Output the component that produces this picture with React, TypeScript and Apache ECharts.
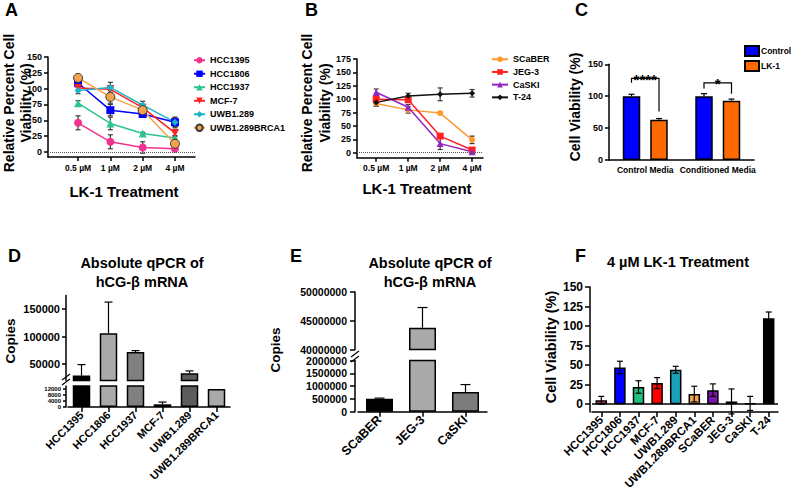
import React, { useEffect, useRef } from 'react';
import * as echarts from 'echarts';

const FONT = 'Liberation Sans';

// ---------- A: dose response of breast / ovarian lines ----------
const doses = ['0.5 µM', '1 µM', '2 µM', '4 µM'];
const hcc1395 = [46, 16, 7, 5];
const hcc1395Err = [11, 11, 9, 3];
const hcc1806 = [109, 66, 60, 47];
const hcc1806Err = [6, 9, 5, 7];
const hcc1937 = [77, 45, 29, 22];
const hcc1937Err = [4, 10, 2, 4];
const mcf7 = [101, 99, 70, 30];
const mcf7Err = [5, 6, 5, 6];
const uwb1289 = [97, 102, 74, 47];
const uwb1289Err = [5, 8, 6, 8];
const uwb1289Brca1 = [117, 87, 66, 13];
const uwb1289Brca1Err = [3, 10, 5, 5];

// ---------- B: dose response of other lines ----------
const scaber = [92, 80, 74, 24];
const scaberErr = [5, 6, 2, 7];
const jeg3 = [100, 99, 31, 5];
const jeg3Err = [4, 4, 4, 4];
const caski = [113, 85, 17, 2];
const caskiErr = [6, 5, 11, 5];
const t24 = [94, 106, 109, 111];
const t24Err = [7, 5, 12, 7];

// ---------- C: conditioned media ----------
const mediaGroups = ['Control Media', 'Conditioned Media'];
const controlViability = [100, 100];
const controlErr = [3, 4];
const lk1Viability = [63, 93];
const lk1Err = [2, 2.5];
const sigLabels = ['****', '*'];
const sigBracketTop = [128, 121];
const sigLeftEnd = [121, 112];
const sigRightEnd = [76, 104];

// ---------- D: hCG-beta copies, breast / ovarian ----------
const breastLines = ['HCC1395', 'HCC1806', 'HCC1937', 'MCF-7', 'UWB1.289', 'UWB1.289BRCA1'];
const breastCopies = [29000, 106000, 72000, 1800, 33000, 12000];
const breastCopiesErr = [20000, 57000, 2500, 1500, 4500, 0];
const dUpperTicks = [50000, 100000, 150000];
const dLowerTicks = [0, 4000, 8000, 12000];

// ---------- E: hCG-beta copies, other lines ----------
const otherLines = ['SCaBER', 'JEG-3', 'CaSKI'];
const otherCopies = [510000, 43800000, 770000];
const otherCopiesErr = [20000, 3500000, 290000];

// ---------- F: viability at 4 µM ----------
const panelLines = ['HCC1395', 'HCC1806', 'HCC1937', 'MCF-7', 'UWB1.289', 'UWB1.289BRCA1', 'SCaBER', 'JEG-3', 'CaSKI', 'T-24'];
const viability4uM = [5, 47, 22, 27, 44, 13, 18, 3.5, 1, 110];
const viability4uMErr = [5, 8, 8, 7, 4.5, 10, 8, 16, 9, 8];

const viabilityTicks = [0, 25, 50, 75, 100, 125, 150];
const viabilityTicksB = [0, 25, 50, 75, 100, 125, 150, 175];
const doseTicks = [0, 1, 2, 3];

// styles
const aStyle: Record<string, any> = {
  HCC1395: { color: '#f2328f', symbol: 'circle', size: 8 },
  HCC1806: { color: '#0000ff', symbol: 'rect', size: 8 },
  HCC1937: { color: '#2ec48c', symbol: 'triangle', size: 8 },
  'MCF-7': { color: '#ff2222', symbol: 'triangle', size: 8, rotate: 180 },
  'UWB1.289': { color: '#1cb4c8', symbol: 'diamond', size: 7 },
  'UWB1.289BRCA1': { color: '#f5a24c', symbol: 'circle', size: 9, border: '#3a3a3a' },
};
const bStyle: Record<string, any> = {
  SCaBER: { color: '#ff9a2e', symbol: 'circle', size: 6 },
  'JEG-3': { color: '#ff2020', symbol: 'rect', size: 7 },
  CaSKI: { color: '#9426c6', symbol: 'triangle', size: 7 },
  'T-24': { color: '#111111', symbol: 'diamond', size: 6 },
};
const dColors = ['#000000', '#a9a9a9', '#808080', '#a9a9a9', '#5c5c5c', '#a9a9a9'];
const eColors = ['#000000', '#a9a9a9', '#7c7c7c'];
const fColors = ['#e8338d', '#0000ff', '#22c07e', '#ff0000', '#1aa0b8', '#f3a64d', '#7a14aa', '#b43a3a', '#6b6b6b', '#000000'];

const aLines = [
  { name: 'HCC1395', values: hcc1395, errs: hcc1395Err },
  { name: 'HCC1806', values: hcc1806, errs: hcc1806Err },
  { name: 'HCC1937', values: hcc1937, errs: hcc1937Err },
  { name: 'MCF-7', values: mcf7, errs: mcf7Err },
  { name: 'UWB1.289', values: uwb1289, errs: uwb1289Err },
  { name: 'UWB1.289BRCA1', values: uwb1289Brca1, errs: uwb1289Brca1Err },
];
const bLines = [
  { name: 'SCaBER', values: scaber, errs: scaberErr },
  { name: 'JEG-3', values: jeg3, errs: jeg3Err },
  { name: 'CaSKI', values: caski, errs: caskiErr },
  { name: 'T-24', values: t24, errs: t24Err },
];

const lineAxis = { show: true, onZero: false, lineStyle: { color: '#000', width: 1.5 } };
const tick = (len = 4) => ({ show: true, length: len, lineStyle: { color: '#000', width: 1.5 } });
const lbl = (size: number) => ({ color: '#000', fontWeight: 'bold' as const, fontFamily: FONT, fontSize: size });
const asText = (v: number) => String(v);

function errorBars(xi: number, data: number[][], cap: number, both: boolean, shift = 0, color = '#000', z = 5) {
  return {
    type: 'custom',
    xAxisIndex: xi,
    yAxisIndex: xi,
    z,
    silent: true,
    data,
    encode: { x: 0, y: [1, 2] },
    renderItem: (_p: any, api: any) => {
      const x = api.value(0);
      const lo = api.coord([x, api.value(1)]);
      const hi = api.coord([x, api.value(2)]);
      const cx = lo[0] + shift;
      const st = { stroke: color, lineWidth: 1.2 };
      const children: any[] = [
        { type: 'line', shape: { x1: cx, y1: lo[1], x2: cx, y2: hi[1] }, style: st },
        { type: 'line', shape: { x1: cx - cap / 2, y1: hi[1], x2: cx + cap / 2, y2: hi[1] }, style: st },
      ];
      if (both) children.push({ type: 'line', shape: { x1: cx - cap / 2, y1: lo[1], x2: cx + cap / 2, y2: lo[1] }, style: st });
      return { type: 'group', children };
    },
  };
}

function doseSeries(lines: any[], styles: Record<string, any>, axis: number) {
  const out: any[] = [];
  lines.forEach((ln, k) => {
    const s = styles[ln.name];
    out.push(errorBars(axis, ln.values.map((v: number, i: number) => [i, v - ln.errs[i], v + ln.errs[i]]), 5, true, 0, '#3a3a3a', 2));
    out.push({
      type: 'line',
      name: ln.name,
      xAxisIndex: axis,
      yAxisIndex: axis,
      z: 3,
      data: ln.values.map((v: number, i: number) => [i, v]),
      symbol: s.symbol,
      symbolSize: s.size,
      symbolRotate: s.rotate || 0,
      itemStyle: { color: s.color, borderColor: s.border || s.color, borderWidth: s.border ? 1 : 0, opacity: 1 },
      lineStyle: { color: s.color, width: 1.5 },
      markLine: k === 0 ? {
        silent: true, symbol: 'none', label: { show: false },
        lineStyle: { type: 'dotted', color: '#555', width: 1 },
        data: [{ yAxis: 0 }],
      } : undefined,
    });
  });
  return out;
}

function txt(text: string, x: number, y: number, size: number, opts: any = {}) {
  return {
    type: 'text',
    x, y,
    rotation: opts.rotate ? Math.PI / 2 : 0,
    style: {
      text,
      fill: '#000',
      fontFamily: FONT,
      fontWeight: 'bold',
      fontSize: size,
      lineHeight: opts.lineHeight || size * 1.2,
      align: opts.align || 'center',
      textAlign: opts.align || 'center',
      verticalAlign: 'middle',
      textVerticalAlign: 'middle',
    },
  };
}

const brk = (x1: number, y1: number, x2: number, y2: number) => ({
  type: 'line', shape: { x1, y1, x2, y2 }, style: { stroke: '#000', lineWidth: 1.2 },
});

function buildOption(): any {
  const grids = [
    { left: 48, top: 57, width: 147, height: 100 },      // A
    { left: 357, top: 59, width: 126, height: 98.7 },    // B
    { left: 609, top: 64.3, width: 145, height: 95.7 },  // C
    { left: 68, top: 295.5, width: 162, height: 85 },    // D upper
    { left: 68, top: 386, width: 162, height: 21 },      // D lower
    { left: 358, top: 292, width: 129, height: 57.5 },   // E upper
    { left: 358, top: 360.5, width: 129, height: 51.2 }, // E lower
    { left: 592, top: 287, width: 186, height: 125 },    // F
  ];

  const xAxis: any[] = [
    {
      gridIndex: 0, type: 'value', min: -0.93, max: 3.62, splitLine: { show: false },
      axisLine: lineAxis, axisTick: { ...tick(4), customValues: doseTicks },
      axisLabel: { ...lbl(8.5), margin: 6, customValues: doseTicks, formatter: (v: number) => doses[Math.round(v)] },
    },
    {
      gridIndex: 1, type: 'value', min: -0.6, max: 3.34, splitLine: { show: false },
      axisLine: lineAxis, axisTick: { ...tick(4), customValues: doseTicks },
      axisLabel: { ...lbl(8.5), margin: 6, customValues: doseTicks, formatter: (v: number) => doses[Math.round(v)] },
    },
    {
      gridIndex: 2, type: 'category', data: mediaGroups, axisLine: lineAxis, axisTick: { show: false },
      axisLabel: { ...lbl(8.5), margin: 5, interval: 0 },
    },
    { gridIndex: 3, type: 'category', data: breastLines, show: false },
    {
      gridIndex: 4, type: 'category', data: breastLines, axisLine: lineAxis,
      axisTick: { ...tick(5), alignWithLabel: true },
      axisLabel: { ...lbl(11), rotate: 45, interval: 0, margin: 6 },
    },
    { gridIndex: 5, type: 'category', data: otherLines, show: false },
    {
      gridIndex: 6, type: 'category', data: otherLines, axisLine: lineAxis,
      axisTick: { ...tick(5), alignWithLabel: true },
      axisLabel: { ...lbl(12.5), rotate: 45, interval: 0, margin: 6 },
    },
    {
      gridIndex: 7, type: 'category', data: panelLines, axisLine: lineAxis,
      axisTick: { ...tick(5), alignWithLabel: true },
      axisLabel: { ...lbl(11.5), rotate: 45, interval: 0, margin: 6 },
    },
  ];

  const yAxis: any[] = [
    {
      gridIndex: 0, type: 'value', min: -8, max: 150, splitLine: { show: false },
      axisLine: lineAxis, axisTick: { ...tick(4), customValues: viabilityTicks },
      axisLabel: { ...lbl(9), margin: 6, customValues: viabilityTicks },
    },
    {
      gridIndex: 1, type: 'value', min: -9.3, max: 175, splitLine: { show: false },
      axisLine: lineAxis, axisTick: { ...tick(4), customValues: viabilityTicksB },
      axisLabel: { ...lbl(9), margin: 6, customValues: viabilityTicksB },
    },
    {
      gridIndex: 2, type: 'value', min: 0, max: 150, interval: 50, splitLine: { show: false },
      axisLine: lineAxis, axisTick: tick(4), axisLabel: { ...lbl(9), margin: 6 },
    },
    {
      gridIndex: 3, type: 'value', min: 20000, max: 175000, offset: 2, splitLine: { show: false },
      axisLine: lineAxis, axisTick: { ...tick(4), customValues: dUpperTicks },
      axisLabel: { ...lbl(11), margin: 6, customValues: dUpperTicks, formatter: asText },
    },
    {
      gridIndex: 4, type: 'value', min: 0, max: 14000, offset: 2, splitLine: { show: false },
      axisLine: lineAxis, axisTick: { ...tick(3), customValues: dLowerTicks },
      axisLabel: { ...lbl(6), lineHeight: 5, margin: 5, customValues: dLowerTicks, formatter: asText },
    },
    {
      gridIndex: 5, type: 'value', min: 40000000, max: 50000000, interval: 5000000, offset: 3, splitLine: { show: false },
      axisLine: lineAxis, axisTick: tick(5), axisLabel: { ...lbl(10.5), lineHeight: 9, margin: 8, formatter: asText },
    },
    {
      gridIndex: 6, type: 'value', min: 0, max: 2000000, interval: 500000, offset: 3, splitLine: { show: false },
      axisLine: lineAxis, axisTick: tick(5), axisLabel: { ...lbl(10.5), lineHeight: 9, margin: 8, formatter: asText },
    },
    {
      gridIndex: 7, type: 'value', min: -10, max: 150, offset: 2, splitLine: { show: false },
      axisLine: lineAxis, axisTick: { ...tick(5), customValues: viabilityTicks },
      axisLabel: { ...lbl(12), margin: 7, customValues: viabilityTicks },
    },
  ];

  const barBorder = { borderColor: '#000', borderWidth: 1.5 };
  const series: any[] = [
    ...doseSeries(aLines, aStyle, 0),
    ...doseSeries(bLines, bStyle, 1),

    // C
    {
      type: 'bar', name: 'Control', xAxisIndex: 2, yAxisIndex: 2, barWidth: 17.5, barGap: '57%',
      data: controlViability, itemStyle: { color: '#0000ff', ...barBorder },
    },
    {
      type: 'bar', name: 'LK-1', xAxisIndex: 2, yAxisIndex: 2, barWidth: 17.5, barGap: '57%',
      data: lk1Viability, itemStyle: { color: '#ff6a00', ...barBorder },
    },
    errorBars(2, controlViability.map((v, i) => [i, v, v + controlErr[i]]), 6, false, -13.75),
    errorBars(2, lk1Viability.map((v, i) => [i, v, v + lk1Err[i]]), 6, false, 13.75),
    {
      type: 'custom', xAxisIndex: 2, yAxisIndex: 2, silent: true, z: 6,
      data: sigBracketTop.map((v, i) => [i, v, sigLeftEnd[i], sigRightEnd[i]]),
      encode: { x: 0, y: 1 },
      renderItem: (_p: any, api: any) => {
        const i = api.value(0);
        const top = api.coord([i, api.value(1)]);
        const yl = api.coord([i, api.value(2)])[1];
        const yr = api.coord([i, api.value(3)])[1];
        const xl = top[0] - 13.75;
        const xr = top[0] + 13.75;
        return {
          type: 'group',
          children: [
            { type: 'polyline', shape: { points: [[xl, yl], [xl, top[1]], [xr, top[1]], [xr, yr]] }, style: { stroke: '#000', lineWidth: 1.2, fill: 'none' } },
            { type: 'text', x: top[0], y: top[1] + 1, style: { text: sigLabels[i], fill: '#000', fontFamily: FONT, fontWeight: 'bold', fontSize: 15, align: 'center', verticalAlign: 'middle' } },
          ],
        };
      },
    },

    // D
    {
      type: 'bar', xAxisIndex: 3, yAxisIndex: 3, barWidth: 17.5, clip: true,
      data: breastCopies.map((v, i) => ({ value: v, itemStyle: { color: dColors[i] } })), itemStyle: barBorder,
    },
    {
      type: 'bar', xAxisIndex: 4, yAxisIndex: 4, barWidth: 17.5, clip: true,
      data: breastCopies.map((v, i) => ({ value: v, itemStyle: { color: dColors[i] } })), itemStyle: barBorder,
    },
    errorBars(3, breastCopies.map((v, i) => [i, v, v + breastCopiesErr[i]]).filter((d) => d[1] >= 20000 && d[2] > d[1]), 8, false),
    errorBars(4, breastCopies.map((v, i) => [i, v, v + breastCopiesErr[i]]).filter((d) => d[1] < 14000 && d[2] > d[1]), 8, false),

    // E
    {
      type: 'bar', xAxisIndex: 5, yAxisIndex: 5, barWidth: 27, clip: true,
      data: otherCopies.map((v, i) => ({ value: v, itemStyle: { color: eColors[i] } })), itemStyle: barBorder,
    },
    {
      type: 'bar', xAxisIndex: 6, yAxisIndex: 6, barWidth: 27, clip: true,
      data: otherCopies.map((v, i) => ({ value: v, itemStyle: { color: eColors[i] } })), itemStyle: barBorder,
    },
    errorBars(5, otherCopies.map((v, i) => [i, v, v + otherCopiesErr[i]]).filter((d) => d[1] >= 40000000), 10, false),
    errorBars(6, otherCopies.map((v, i) => [i, v, v + otherCopiesErr[i]]).filter((d) => d[1] < 2000000), 10, false),

    // F
    {
      type: 'bar', xAxisIndex: 7, yAxisIndex: 7, barWidth: 11.5,
      data: viability4uM.map((v, i) => ({ value: v, itemStyle: { color: fColors[i] } })), itemStyle: barBorder,
      markLine: {
        silent: true, symbol: 'none', label: { show: false },
        lineStyle: { type: 'solid', color: '#000', width: 1.5 },
        data: [{ yAxis: 0 }],
      },
    },
    errorBars(7, viability4uM.map((v, i) => [i, v - viability4uMErr[i], v + viability4uMErr[i]]), 6, true),
  ];

  const legendText = { ...lbl(9), lineHeight: 10.5 };
  const legend = [
    {
      data: aLines.map((l) => l.name), orient: 'vertical', left: 193, top: 55,
      itemWidth: 11, itemHeight: 8, itemGap: 3, selectedMode: false, textStyle: legendText, padding: 0,
    },
    {
      data: bLines.map((l) => l.name), orient: 'vertical', left: 491, top: 54,
      itemWidth: 16, itemHeight: 7, itemGap: 2.2, selectedMode: false, textStyle: legendText, padding: 0,
    },
    {
      data: ['Control', 'LK-1'], orient: 'vertical', left: 744, top: 45, icon: 'rect',
      itemWidth: 14, itemHeight: 10, itemGap: 3, selectedMode: false,
      textStyle: { ...lbl(8.5), lineHeight: 10, padding: [0, 0, 0, -3] }, padding: 0,
    },
  ];

  const graphic = [
    txt('A', 5, 10, 18, { align: 'left' }),
    txt('B', 305, 10, 18, { align: 'left' }),
    txt('C', 575, 10, 18, { align: 'left' }),
    txt('D', 8, 256, 18, { align: 'left' }),
    txt('E', 290, 256, 18, { align: 'left' }),
    txt('F', 575, 256, 18, { align: 'left' }),
    txt('Relative Percent Cell', 9, 103, 14, { rotate: true }),
    txt('Viability (%)', 26, 103, 14, { rotate: true }),
    txt('LK-1 Treatment', 124, 191, 15),
    txt('Relative Percent Cell', 307, 103, 14, { rotate: true }),
    txt('Viability (%)', 325, 103, 14, { rotate: true }),
    txt('LK-1 Treatment', 417, 188, 15),
    txt('Cell Viability (%)', 575, 107, 14, { rotate: true }),
    txt('Absolute qPCR of', 142, 263, 14.5),
    txt('hCG-β mRNA', 142, 282, 14.5),
    txt('Copies', 10, 341, 13.5, { rotate: true }),
    txt('Absolute qPCR of', 430, 263, 14.5),
    txt('hCG-β mRNA', 430, 282, 14.5),
    txt('Copies', 275, 350, 13.5, { rotate: true }),
    txt('4 µM LK-1 Treatment', 678, 262, 14.5),
    txt('Cell Viability (%)', 551, 347, 14.5, { rotate: true }),
    // axis break marks
    brk(62, 380, 70, 374),
    brk(62, 385, 70, 379),
    brk(351, 357, 359, 351),
    brk(351, 362, 359, 356),
  ];

  return {
    animation: false,
    backgroundColor: '#ffffff',
    textStyle: { fontFamily: FONT },
    grid: grids,
    xAxis,
    yAxis,
    legend,
    series,
    graphic,
  };
}

export default function App() {
  const ref = useRef<HTMLDivElement>(null);
  useEffect(() => {
    if (!ref.current) return;
    const chart = echarts.init(ref.current, undefined, { renderer: 'svg' });
    chart.setOption(buildOption());
    return () => chart.dispose();
  }, []);
  return <div ref={ref} style={{ position: 'absolute', left: 0, top: 0, width: 792, height: 501, background: '#fff' }} />;
}
